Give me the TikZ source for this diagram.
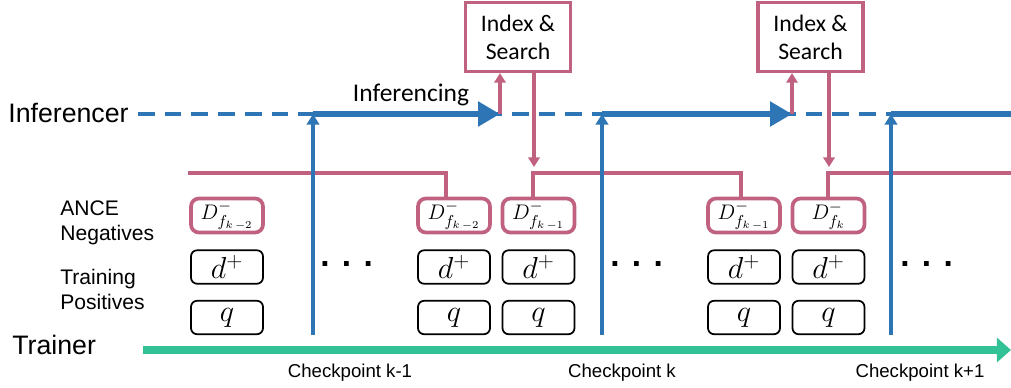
\documentclass[tikz,border=0pt]{standalone}
\usepackage{fontspec}
\setmainfont{Liberation Sans}
\newfontfamily\calib{Carlito}
\usetikzlibrary{arrows.meta}
\definecolor{iblue}{HTML}{2E75B6}
\definecolor{ipink}{HTML}{C0627F}
\definecolor{igreen}{HTML}{33C295}
\begin{document}
\begin{tikzpicture}[x=0.02cm,y=-0.02cm,
  negbox/.style={draw=ipink,line width=2.1pt,rounded corners=4.5pt,minimum width=1.44cm,minimum height=0.68cm,inner sep=0pt,font=\fontsize{13}{15}\selectfont},
  posbox/.style={draw=black,line width=1pt,rounded corners=3.5pt,minimum width=1.44cm,minimum height=0.67cm,inner sep=0pt,font=\fontsize{16.5}{18}\selectfont},
  idxbox/.style={draw=ipink,line width=1.8pt,minimum width=2.1cm,minimum height=1.38cm,align=center,inner sep=0pt,font=\calib\fontsize{13.5}{15.9}\selectfont},
  rowlabel/.style={anchor=north west,align=left,inner sep=0pt,font=\fontsize{12}{14.2}\selectfont},
  biglabel/.style={anchor=west,inner sep=0pt,font=\fontsize{15.2}{18}\selectfont},
  cklabel/.style={anchor=base,inner sep=0pt,font=\fontsize{10.6}{12}\selectfont},
  dotsnode/.style={anchor=base west,inner sep=0pt,font=\bfseries\fontsize{19}{20}\selectfont},
  pinkline/.style={draw=ipink,line width=1.8pt},
  pinkarrow/.style={draw=ipink,line width=1.9pt,-{Triangle[length=5.5pt,width=6.5pt]}},
  bluevert/.style={draw=iblue,line width=1.8pt,-{Triangle[length=6pt,width=7pt]}},
  bluethick/.style={draw=iblue,line width=3.4pt,-{Triangle[length=12.5pt,width=13.6pt]}},
  bluedash/.style={draw=iblue,line width=2pt,dash pattern=on 9.5pt off 5.7pt},
  trainline/.style={draw=igreen,line width=4.2pt,-{Triangle[length=8pt,width=13.6pt]}}
]
\useasboundingbox (0,0) rectangle (1011,387);

% labels
\node[biglabel] (inf) at (8,113) {Inferencer};
\node[biglabel] (trn) at (12,345) {Trainer};
\node[rowlabel] (ance) at (60,200) {ANCE\\Negatives};
\node[rowlabel] (trpos) at (60,269) {Training\\Positives};
\node[anchor=base,inner sep=0pt,font=\calib\fontsize{14.5}{17}\selectfont] (infing) at (411,101) {Inferencing};

% index boxes
\node[idxbox] (idx1) at (518,37) {Index \&\\Search};
\node[idxbox] (idx2) at (810.5,37) {Index \&\\Search};

% boxes
\node[negbox] (n1) at (227,215.5) {$D^{-}_{f_{k\,-2}}$};
\node[posbox] (p1) at (227,267) {$d^{+}$};
\node[posbox] (q1) at (227,317.5) {$q$};
\node[negbox] (n2) at (454,215.5) {$D^{-}_{f_{k\,-2}}$};
\node[posbox] (p2) at (454,267) {$d^{+}$};
\node[posbox] (q2) at (454,317.5) {$q$};
\node[negbox] (n3) at (538.5,215.5) {$D^{-}_{f_{k\,-1}}$};
\node[posbox] (p3) at (538.5,267) {$d^{+}$};
\node[posbox] (q3) at (538.5,317.5) {$q$};
\node[negbox] (n4) at (744,215.5) {$D^{-}_{f_{k\,-1}}$};
\node[posbox] (p4) at (744,267) {$d^{+}$};
\node[posbox] (q4) at (744,317.5) {$q$};
\node[negbox] (n5) at (828.5,215.5) {$D^{-}_{f_{k}}$};
\node[posbox] (p5) at (828.5,267) {$d^{+}$};
\node[posbox] (q5) at (828.5,317.5) {$q$};

% dots
\node[dotsnode] (dots1) at (320,266) {. . .};
\node[dotsnode] (dots2) at (610,266) {. . .};
\node[dotsnode] (dots3) at (900,266) {. . .};

% checkpoint labels
\node[cklabel] (ck1) at (350,377) {Checkpoint k-1};
\node[cklabel] (ck2) at (622,377) {Checkpoint k};
\node[cklabel] (ck3) at (920,377) {Checkpoint k+1};

% pink distribution lines
\coordinate (h1s) at (188,173);
\coordinate (h1e) at (446,173);
\draw[pinkline] (h1s) -- (h1e) -- (h1e |- n2.north);
\coordinate (h2s) at (533,173);
\coordinate (h2e) at (741,173);
\draw[pinkline] (n3.north -| h2s) -- (h2s) -- (h2e) -- (h2e |- n4.north);
\coordinate (h3s) at (828,173);
\coordinate (h3e) at (1011,173);
\draw[pinkline] (n5.north -| h3s) -- (h3s) -- (h3e);

% inferencer timeline
\coordinate (ds) at (138,114);
\coordinate (de) at (1011,114);
\draw[bluedash] (ds) -- (de);

% checkpoint verticals
\coordinate (v1b) at (313,335);
\coordinate (v1t) at (313,114);
\coordinate (v2b) at (602,335);
\coordinate (v2t) at (602,114);
\coordinate (v3b) at (891,335);
\coordinate (v3t) at (891,114);
\draw[bluevert] (v1b) -- (v1t);
\draw[bluevert] (v2b) -- (v2t);
\draw[bluevert] (v3b) -- (v3t);

% inferencing arrows
\coordinate (t1) at (500,114);
\coordinate (t2) at (792,114);
\draw[bluethick] (v1t) -- (t1);
\draw[bluethick] (v2t) -- (t2);
\draw[draw=iblue,line width=3.4pt] (v3t) -- (de);

% index & search arrows
\draw[pinkarrow] (t1) -- (t1 |- idx1.south);
\draw[pinkarrow] (t2) -- (t2 |- idx2.south);
\coordinate (d1) at (534,167);
\coordinate (d2) at (829,167);
\draw[pinkarrow] (idx1.south -| d1) -- (d1);
\draw[pinkarrow] (idx2.south -| d2) -- (d2);

% trainer timeline
\coordinate (gs) at (143,350);
\coordinate (ge) at (1011,350);
\draw[trainline] (gs) -- (ge);
\end{tikzpicture}
\end{document}
